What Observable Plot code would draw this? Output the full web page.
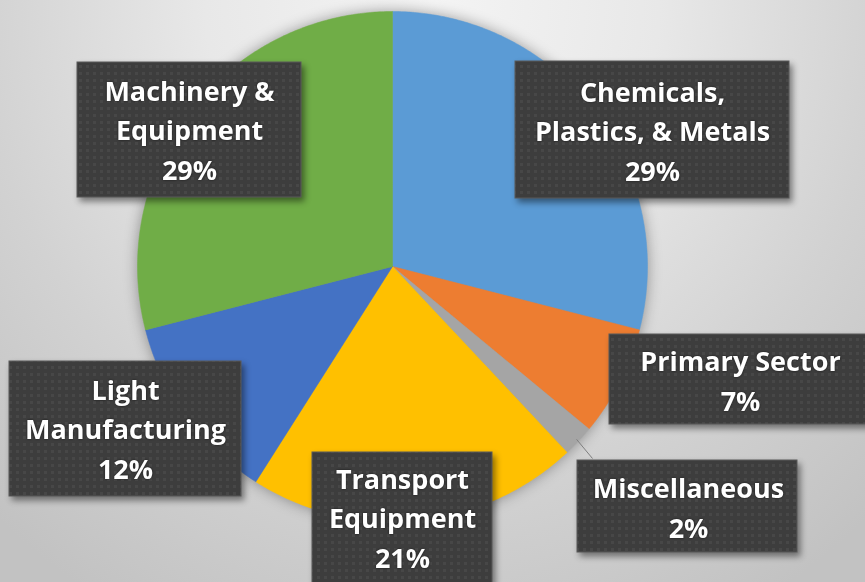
<!DOCTYPE html>
<html>
<head>
<meta charset="utf-8">
<script src="https://cdn.jsdelivr.net/npm/d3@7"></script>
<script src="https://cdn.jsdelivr.net/npm/@observablehq/plot@0.6"></script>
<style>
  html, body { margin: 0; padding: 0; }
  body { width: 865px; height: 582px; overflow: hidden; }
</style>
</head>
<body>
<div id="chart"></div>
<script>
// ---- data ----
const categories = ["Chemicals, Plastics, & Metals", "Primary Sector", "Miscellaneous", "Transport Equipment", "Light Manufacturing", "Machinery & Equipment"];
const shares = [29, 7, 2, 21, 12, 29];
const labelLines = ["Chemicals,\nPlastics, & Metals", "Primary Sector", "Miscellaneous", "Transport\nEquipment", "Light\nManufacturing", "Machinery &\nEquipment"];
const sliceColors = ["#5B9BD5", "#ED7D31", "#A5A5A5", "#FFC000", "#4472C4", "#70AD47"];

// ---- layout (pixels) ----
const W = 865, H = 582;
const cx = 392, cy = 266, R = 255;
const boxes = [
  {x1: 515, y1: 61, x2: 789, y2: 198},
  {x1: 609, y1: 334, x2: 872, y2: 424},
  {x1: 577, y1: 460, x2: 797, y2: 552},
  {x1: 312, y1: 452, x2: 492, y2: 600},
  {x1: 9, y1: 361, x2: 241, y2: 496},
  {x1: 77, y1: 62, x2: 301, y2: 197}
];
const textCenters = [[652, 128], [740, 378], [688, 505], [402, 515], [125, 426], [189, 127]];
const leaderEnd = [592, 458];

const ux = px => (px - cx) / R;
const uy = py => (cy - py) / R;

// ---- pie geometry from data ----
const arcs = d3.pie().sort(null).value(d => d)(shares);
const slicePts = [];
arcs.forEach((a, i) => {
  const cat = categories[i];
  slicePts.push({cat, x: 0, y: 0});
  const n = Math.max(4, Math.ceil((a.endAngle - a.startAngle) / (Math.PI / 360)));
  for (let k = 0; k <= n; k++) {
    const t = a.startAngle + (a.endAngle - a.startAngle) * k / n;
    slicePts.push({cat, x: Math.sin(t), y: Math.cos(t)});
  }
  slicePts.push({cat, x: 0, y: 0});
});

const labels = categories.map((c, i) => ({
  cat: c,
  text: labelLines[i] + "\n" + shares[i] + "%",
  x: ux(textCenters[i][0]), y: uy(textCenters[i][1]),
  bx1: ux(boxes[i].x1), bx2: ux(boxes[i].x2), by1: uy(boxes[i].y1), by2: uy(boxes[i].y2)
}));

const miscArc = arcs[2];
const miscMid = (miscArc.startAngle + miscArc.endAngle) / 2;
const leader = [{x1: Math.sin(miscMid) * 0.99, y1: Math.cos(miscMid) * 0.99, x2: ux(leaderEnd[0]), y2: uy(leaderEnd[1])}];

const chart = Plot.plot({
  width: W, height: H,
  margin: 0,
  style: {
    background: "radial-gradient(ellipse 75% 120% at 50% 0%, #f4f4f4 0%, #e8e8e8 35%, #d2d2d2 70%, #c2c2c2 100%)",
    overflow: "visible"
  },
  x: {domain: [-1, 1], range: [cx - R, cx + R], axis: null},
  y: {domain: [-1, 1], range: [cy + R, cy - R], axis: null},
  color: {domain: categories, range: sliceColors},
  marks: [
    Plot.line(slicePts, {x: "x", y: "y", z: "cat", fill: "cat", stroke: "cat", strokeWidth: 0.5, curve: "linear"}),
    Plot.link(leader, {x1: "x1", y1: "y1", x2: "x2", y2: "y2", stroke: "#7f7f7f", strokeWidth: 1}),
    Plot.rect(labels, {x1: "bx1", x2: "bx2", y1: "by1", y2: "by2", fill: "url(#dots)", stroke: "#5a5a5a", strokeWidth: 1}),
    Plot.text(labels, {x: "x", y: "y", text: "text", fill: "white", fontSize: 27, fontWeight: "bold", fontFamily: "Open Sans", lineHeight: 1.46, textAnchor: "middle"})
  ]
});

// pattern + shadows
const svg = d3.select(chart);
const defs = svg.insert("defs", ":first-child");
const pat = defs.append("pattern").attr("id", "dots").attr("patternUnits", "userSpaceOnUse").attr("width", 7).attr("height", 7);
pat.append("rect").attr("width", 7).attr("height", 7).attr("fill", "#3d3d3d");
pat.append("rect").attr("x", 2).attr("y", 2).attr("width", 3).attr("height", 3).attr("fill", "#474747");
svg.selectAll("g[aria-label='line']").style("filter", "drop-shadow(0px 0px 7px rgba(0,0,0,0.35))");
svg.selectAll("g[aria-label='rect']").style("filter", "drop-shadow(3px 4px 3px rgba(0,0,0,0.45))");
svg.selectAll("g[aria-label='text']").style("filter", "drop-shadow(0px 0px 1px rgba(0,0,0,0.6))");

document.getElementById("chart").appendChild(chart);
</script>
</body>
</html>
